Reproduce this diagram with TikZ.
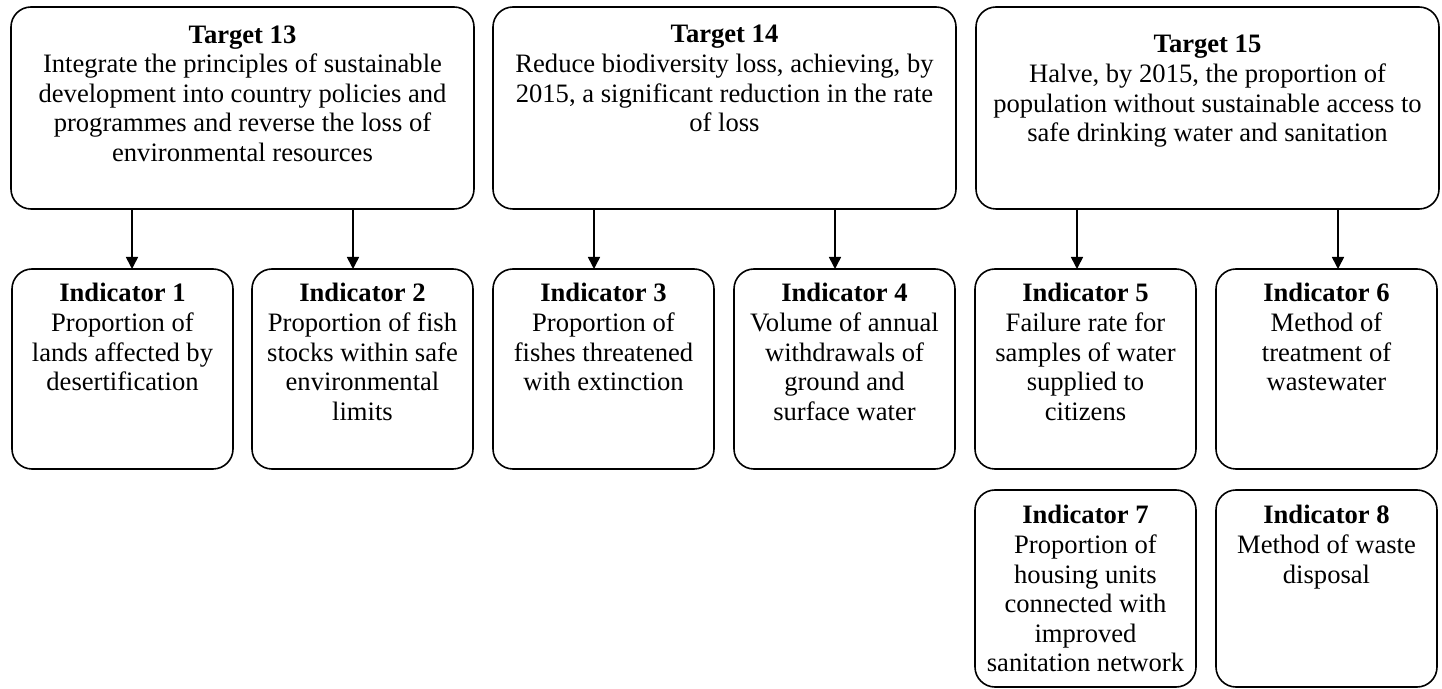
\documentclass[tikz,border=0pt]{standalone}
\usepackage{fontspec}
\setmainfont{Liberation Serif}
\usetikzlibrary{arrows.meta,positioning,calc}
\tikzset{
  tgt/.style ={draw, line width=0.8pt, rounded corners=10pt, inner sep=0pt, outer sep=0pt,
               minimum width=231.5pt, minimum height=101pt, anchor=north west},
  ind/.style ={tgt, minimum width=110.5pt, minimum height=100pt},
  txt/.style ={font=\fontsize{13.3}{14.8}\selectfont, align=center, inner sep=0pt, anchor=north},
  arr/.style ={line width=0.8pt, -{Triangle[length=6pt,width=6pt]}},
}

\begin{document}
\begin{tikzpicture}[x=0.5pt,y=-0.5pt]
  \useasboundingbox (0,0) rectangle (1442,689);

  % ---------------------------------------------------------------- targets
  \node[tgt] (t13) at (11,7) {};
  \node[tgt, right=9.5pt of t13] (t14) {};
  \node[tgt, right=10pt of t14]  (t15) {};
  \node[txt, below=9pt of t13.north] (t13x)
        {\textbf{Target 13}\\Integrate the principles of sustainable\\development into country policies and\\programmes and reverse the loss of\\environmental resources};
  \node[txt, below=9pt of t14.north] (t14x)
        {\textbf{Target 14}\\Reduce biodiversity loss, achieving, by\\2015, a significant reduction in the rate\\of loss};
  \node[txt, below=14pt of t15.north] (t15x)
        {\textbf{Target 15}\\Halve, by 2015, the proportion of\\population without sustainable access to\\safe drinking water and sanitation};

  % ---------------------------------------------------------------- indicators
  \node[ind] (i1) at (12,269) {};
  \node[ind, right=9.5pt of i1] (i2) {};
  \node[ind] (i3) at (493,269) {};
  \node[ind, right=10pt of i3] (i4) {};
  \node[ind] (i5) at (975,269) {};
  \node[ind, right=10pt of i5] (i6) {};
  \node[ind, minimum height=98.5pt, below=10.5pt of i5] (i7) {};
  \node[ind, minimum height=98.5pt, right=10pt of i7]   (i8) {};

  \node[txt, below=7pt of i1.north] (i1x) {\textbf{Indicator 1}\\Proportion of\\lands affected by\\desertification};
  \node[txt, below=7pt of i2.north] (i2x) {\textbf{Indicator 2}\\Proportion of fish\\stocks within safe\\environmental\\limits};
  \node[txt, below=7pt of i3.north] (i3x) {\textbf{Indicator 3}\\Proportion of\\fishes threatened\\with extinction};
  \node[txt, below=7pt of i4.north] (i4x) {\textbf{Indicator 4}\\Volume of annual\\withdrawals of\\ground and\\surface water};
  \node[txt, below=7pt of i5.north] (i5x) {\textbf{Indicator 5}\\Failure rate for\\samples of water\\supplied to\\citizens};
  \node[txt, below=7pt of i6.north] (i6x) {\textbf{Indicator 6}\\Method of\\treatment of\\wastewater};
  \node[txt, below=7.5pt of i7.north] (i7x) {\textbf{Indicator 7}\\Proportion of\\housing units\\connected with\\improved\\sanitation network};
  \node[txt, below=7.5pt of i8.north] (i8x) {\textbf{Indicator 8}\\Method of waste\\disposal};

  % ---------------------------------------------------------------- arrows
  \coordinate (a1) at ($(t13.south west)+(121,0)$);
  \coordinate (a2) at ($(t13.south west)+(342,0)$);
  \coordinate (a3) at ($(t14.south west)+(101,0)$);
  \coordinate (a4) at ($(t14.south west)+(342,0)$);
  \coordinate (a5) at ($(t15.south west)+(101,0)$);
  \coordinate (a6) at ($(t15.south west)+(362,0)$);
  \foreach \a/\i in {a1/i1, a2/i2, a3/i3, a4/i4, a5/i5, a6/i6}
    \draw[arr] (\a) -- (\a |- \i.north);
\end{tikzpicture}
\end{document}
